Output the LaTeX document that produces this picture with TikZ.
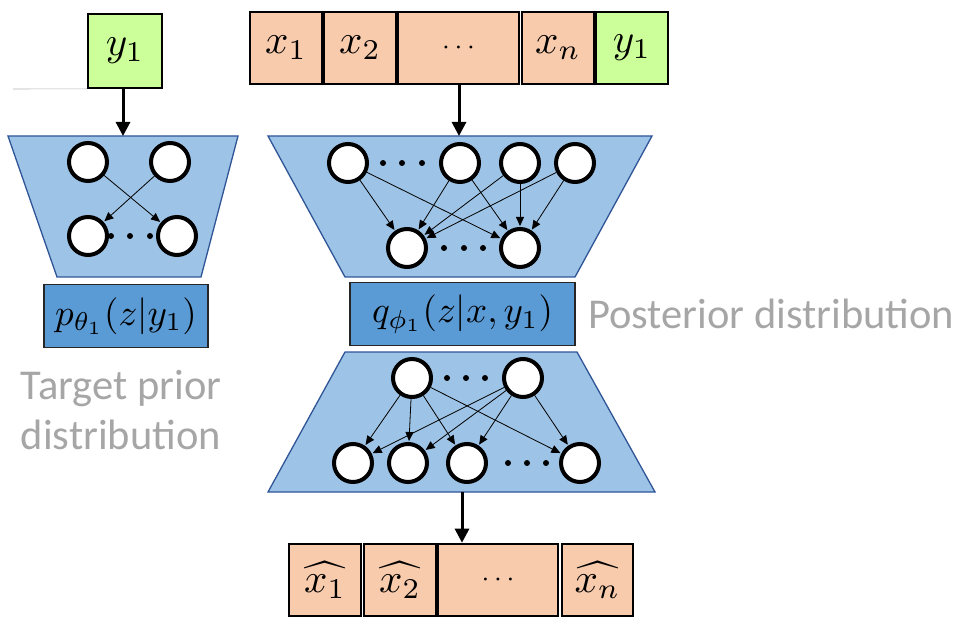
\documentclass[tikz,border=0pt]{standalone}
\usepackage{graphicx}
\usepackage{fontspec}
\setmainfont{Carlito}
\usetikzlibrary{arrows.meta}
\definecolor{peach}{HTML}{F8CBAD}
\definecolor{lgreen}{HTML}{CCFF99}
\definecolor{trapfill}{HTML}{9DC3E6}
\definecolor{trapline}{HTML}{2F5597}
\definecolor{labfill}{HTML}{5B9BD5}
\definecolor{capgray}{HTML}{A6A6A6}
% math set at the base size and enlarged
\newcommand{\cellmath}[1]{\scalebox{4.1}{$#1$}}
\newcommand{\celldots}{\scalebox{2.8}{$\cdots$}}
\newcommand{\labmath}[1]{\scalebox{3.7}{$#1$}}
\tikzset{
  cell/.style={draw=black, line width=1.6pt, inner sep=0pt, minimum height=72pt,
    minimum width=72pt},
  xcell/.style={cell, fill=peach},
  ycell/.style={cell, fill=lgreen},
  dotcell/.style={cell, fill=peach, line width=2.6pt, minimum width=120pt},
  trap/.style={fill=trapfill, draw=trapline, line width=1.3pt, line join=miter},
  labbox/.style={draw=black!85, line width=1.3pt, fill=labfill, inner sep=0pt,
    minimum height=63pt},
  unit/.style={circle, draw=black, fill=white, line width=4pt, minimum size=38pt, inner sep=0pt},
  wdot/.style={circle, fill=black, inner sep=0pt, minimum size=6pt},
  link/.style={line width=0.8pt, -{Triangle[length=9pt,width=8pt]}, shorten >=1pt},
  flow/.style={line width=3pt, -{Triangle[length=14pt,width=14pt]}},
  caption/.style={text=capgray, font=\fontsize{42.5}{50}\selectfont, align=center, inner sep=0pt},
}
\begin{document}
\begin{tikzpicture}[x=1pt, y=-1pt]
\useasboundingbox (0,0) rectangle (963,617);

% ---------- prior network ----------
\node[ycell, minimum width=74pt, minimum height=74pt] (ly) at (125,51) {\cellmath{y_1}};
\coordinate (lstub) at (13,89);
\draw[black!30, line width=0.6pt] (lstub) -- (ly.south west);

\draw[trap] (8,136) -- (238,136) -- (201,277) -- (57,277) -- cycle;
\coordinate (ltop) at (123,136);
\draw[flow] (ly.south -| ltop) -- (ltop);

\node[unit] (p1) at (88,162) {};
\node[unit] (p2) at (170,162) {};
\node[unit] (p3) at (88,236) {};
\node[unit] (p4) at (177,236) {};
\foreach \x in {111,130,150} \node[wdot] at (\x,236) {};
\draw[link] (p1) -- (p4);
\draw[link] (p2) -- (p3);

\node[labbox, minimum width=164pt] (plab) at (126,316) {\labmath{p_{\theta_1}(z|y_1)}};
\node[caption] (pcap) at (121,410) {Target prior\\distribution};

% ---------- input row ----------
\node[xcell] (x1) at (286,48) {\cellmath{x_1}};
\node[xcell] (x2) at (360,48) {\cellmath{x_2}};
\node[dotcell, minimum width=121pt] (xd) at (458.5,48) {\celldots};
\node[xcell] (xn) at (558,48) {\cellmath{x_n}};
\node[ycell] (xy) at (632,48) {\cellmath{y_1}};

% ---------- encoder ----------
\draw[trap] (268,136) -- (652,136) -- (575,277) -- (345,277) -- cycle;
\coordinate (etop) at (459,136);
\draw[flow] (xd.south -| etop) -- (etop);

\node[unit] (e1) at (348,163) {};
\node[unit] (e2) at (460,163) {};
\node[unit] (e3) at (520,163) {};
\node[unit] (e4) at (575,163) {};
\foreach \x in {383,402,422} \node[wdot] at (\x,163) {};
\node[unit] (h1) at (407,248) {};
\node[unit] (h2) at (520,248) {};
\foreach \x in {444,464,483} \node[wdot] at (\x,248) {};
\foreach \s in {e1,e2,e3,e4} {
  \draw[link] (\s) -- (h1);
  \draw[link] (\s) -- (h2);
}

\node[labbox, minimum width=225pt] (qlab) at (462.5,314) {\labmath{q_{\phi_1}(z|x,y_1)}};
\node[caption, anchor=west] (qcap) at (588,314) {Posterior distribution};

% ---------- decoder ----------
\draw[trap] (345,352) -- (577,352) -- (655,492) -- (268,492) -- cycle;
\node[unit] (d1) at (412,378) {};
\node[unit] (d2) at (523,378) {};
\foreach \x in {447,466,485} \node[wdot] at (\x,378) {};
\node[unit] (o1) at (353,463) {};
\node[unit] (o2) at (408,463) {};
\node[unit] (o3) at (467,463) {};
\node[unit] (o4) at (580,463) {};
\foreach \x in {508,527,546} \node[wdot] at (\x,463) {};
\foreach \s in {d1,d2} {
  \foreach \t in {o1,o2,o3,o4} \draw[link] (\s) -- (\t);
}

% ---------- reconstruction row ----------
\node[xcell] (r1) at (325,580) {\cellmath{\widehat{x_1}}};
\node[xcell] (r2) at (400,580) {\cellmath{\widehat{x_2}}};
\node[dotcell] (rd) at (498,580) {\celldots};
\node[xcell, minimum width=71pt] (rn) at (597.5,580) {\cellmath{\widehat{x_n}}};
\coordinate (dbot) at (462,492);
\draw[flow] (dbot) -- (dbot |- rd.north);
\end{tikzpicture}
\end{document}
